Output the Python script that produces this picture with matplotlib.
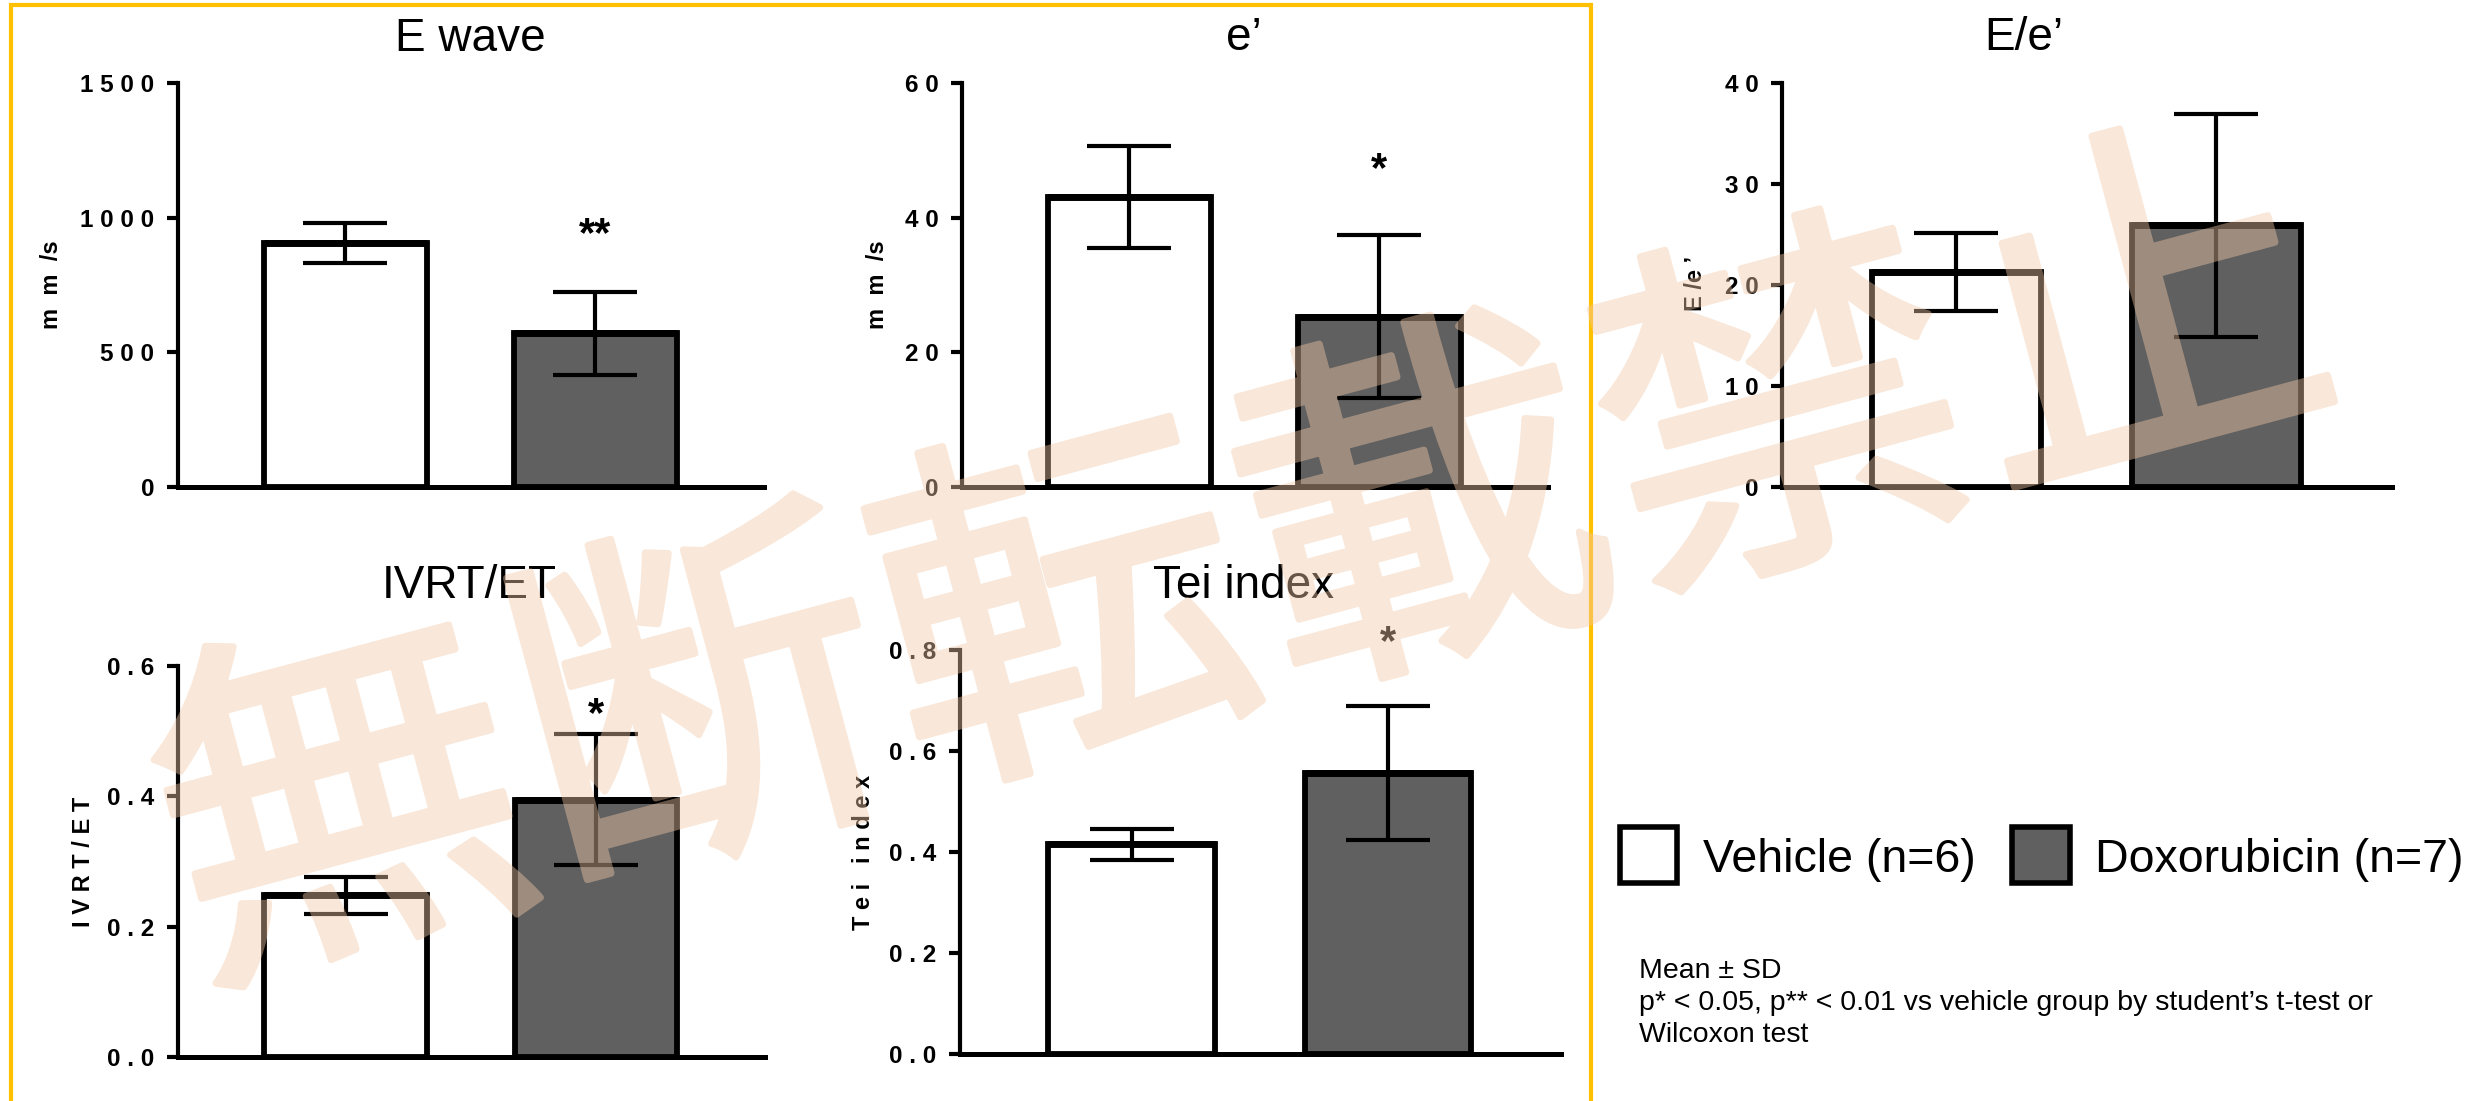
import matplotlib
matplotlib.use("Agg")
import matplotlib.pyplot as plt
import matplotlib.patheffects as pe
from matplotlib.patches import Rectangle
from matplotlib.lines import Line2D

plt.rcParams['font.family'] = ['Liberation Sans', 'DejaVu Sans']

# Groups and per-parameter results (mean, SD)
groups = ["Vehicle (n=6)", "Doxorubicin (n=7)"]
bar_colors = ["white", "#606060"]

e_wave_mean = [905, 570]
e_wave_sd = [75, 153]
e_prime_mean = [43.1, 25.3]
e_prime_sd = [7.6, 12.1]
e_ratio_mean = [21.3, 25.9]
e_ratio_sd = [3.85, 11.0]
ivrt_et_mean = [0.248, 0.395]
ivrt_et_sd = [0.028, 0.10]
tei_mean = [0.415, 0.556]
tei_sd = [0.03, 0.133]

e_wave_ticks = ["0", "500", "1000", "1500"]
e_prime_ticks = ["0", "20", "40", "60"]
e_ratio_ticks = ["0", "10", "20", "30", "40"]
ivrt_et_ticks = ["0.0", "0.2", "0.4", "0.6"]
tei_ticks = ["0.0", "0.2", "0.4", "0.6", "0.8"]

e_wave_sig = ["", "**"]
e_prime_sig = ["", "*"]
e_ratio_sig = ["", ""]
ivrt_et_sig = ["", "*"]
tei_sig = ["", "*"]

notes = [
    "Mean \u00b1 SD",
    "p* < 0.05, p** < 0.01 vs vehicle group by student\u2019s t-test or",
    "Wilcoxon test",
]

watermark = "無断転載禁止"

W, H = 2484, 1101
fig = plt.figure(figsize=(W / 100, H / 100), dpi=100)


def fx(x):
    return x / W


def fy(y):
    return 1 - y / H


def spaced(s):
    return " ".join(s)


def fade(img, dpi):
    # scale the alpha of an opaque rendering so overlapping strokes stay uniform
    img = img.copy()
    img[..., 3] *= 0.43
    return img, 0, 0


# panel layout in pixels: axes box (left, right, top, bottom), title centre/baseline,
# y-label centre, star height
panels = [
    dict(title="E wave", ylabel="m  m  /s", mean=e_wave_mean, sd=e_wave_sd,
         ticks=e_wave_ticks, sig=e_wave_sig, box=(178, 764, 83, 487),
         title_xy=(470, 51), ylab_xy=(52, 285), star_y=[0, 985]),
    dict(title="e\u2019", ylabel="m  m  /s", mean=e_prime_mean, sd=e_prime_sd,
         ticks=e_prime_ticks, sig=e_prime_sig, box=(962, 1548, 83, 487),
         title_xy=(1244, 50), ylab_xy=(878, 285), star_y=[0, 49.0]),
    dict(title="E/e\u2019", ylabel="E /e \u2019", mean=e_ratio_mean, sd=e_ratio_sd,
         ticks=e_ratio_ticks, sig=e_ratio_sig, box=(1782, 2392, 83, 487),
         title_xy=(2024, 50), ylab_xy=(1695, 283), star_y=[0, 0]),
    dict(title="IVRT/ET", ylabel="I V R T / E T", mean=ivrt_et_mean, sd=ivrt_et_sd,
         ticks=ivrt_et_ticks, sig=ivrt_et_sig, box=(178, 765, 666, 1057),
         title_xy=(469, 598), ylab_xy=(84, 862), star_y=[0, 0.545]),
    dict(title="Tei index", ylabel="T e i   i n d e x", mean=tei_mean, sd=tei_sd,
         ticks=tei_ticks, sig=tei_sig, box=(960, 1561, 650, 1054),
         title_xy=(1244, 598), ylab_xy=(863, 852), star_y=[0, 0.84]),
]

xpos = [1, 2]
star_fs = 30

for p in panels:
    x0, x1, yt, yb = p['box']
    ax = fig.add_axes([fx(x0), fy(yb), (x1 - x0) / W, (yb - yt) / H])
    tick_vals = [float(t) for t in p['ticks']]

    ax.bar(xpos, p['mean'], width=0.65, color=bar_colors, edgecolor='black',
           linewidth=4.2, zorder=2)
    # heavier line along the top of each bar
    ax.hlines(p['mean'], [x - 0.325 for x in xpos], [x + 0.325 for x in xpos],
              colors='black', linewidth=5, zorder=2.5)
    ax.errorbar(xpos, p['mean'], yerr=p['sd'], fmt='none', ecolor='black',
                elinewidth=3, capsize=30, capthick=3, zorder=3)

    for xi, s, ys in zip(xpos, p['sig'], p['star_y']):
        if s:
            ax.annotate(s, (xi, ys), xytext=(0, -0.58 * star_fs), textcoords='offset points',
                        ha='center', va='baseline', fontsize=star_fs, fontweight='bold',
                        annotation_clip=False)

    ax.set_xlim(0.33, 2.675)
    ax.set_ylim(tick_vals[0], tick_vals[-1])
    ax.set_yticks(tick_vals)
    ax.set_yticklabels([spaced(t) for t in p['ticks']], fontsize=17.5, fontweight='bold')
    ax.set_xticks([])
    for side in ('top', 'right'):
        ax.spines[side].set_visible(False)
    ax.spines['left'].set_linewidth(3)
    ax.spines['bottom'].set_linewidth(3.6)
    ax.tick_params(axis='y', length=8, width=3, pad=9, direction='out')
    ax.set_facecolor('none')

    tx, ty = p['title_xy']
    fig.text(fx(tx), fy(ty), p['title'], ha='center', va='baseline', fontsize=33)
    lx, ly = p['ylab_xy']
    fig.text(fx(lx), fy(ly), p['ylabel'], ha='center', va='center', rotation=90,
             fontsize=17, fontweight='bold')

# legend
legend_boxes = [(1620, 1677), (2012, 2070)]
legend_text_x = [1703, 2095]
for (bx0, bx1), tx, col, name in zip(legend_boxes, legend_text_x, bar_colors, groups):
    fig.add_artist(Rectangle((fx(bx0), fy(883)), (bx1 - bx0) / W, 56 / H,
                             transform=fig.transFigure, facecolor=col,
                             edgecolor='black', linewidth=4))
    fig.text(fx(tx), fy(872), name, ha='left', va='baseline', fontsize=33.5)

for line, base in zip(notes, [978, 1010, 1042]):
    fig.text(fx(1639), fy(base), line, ha='left', va='baseline', fontsize=20.5)

# yellow frame around the left five panels
fig.add_artist(Line2D([fx(11), fx(11), fx(1591), fx(1591)],
                      [fy(1110), fy(5), fy(5), fy(1110)],
                      transform=fig.transFigure, color='#FFC000', linewidth=3,
                      solid_joinstyle='miter'))

# diagonal watermark, one character at a time along a rising line
wm_color = (242 / 255, 200 / 255, 167 / 255)
wm_start = (345, 821)
wm_step = (360, -97.6)
for i, ch in enumerate(watermark):
    cx = wm_start[0] + i * wm_step[0]
    cy = wm_start[1] + i * wm_step[1]
    t = fig.text(fx(cx), fy(cy), ch, ha='center', va='center', rotation=15,
                 rotation_mode='anchor', fontsize=265, color=wm_color,
                 family=['Noto Sans CJK JP', 'DejaVu Sans'], zorder=20,
                 path_effects=[pe.withStroke(linewidth=5, foreground=wm_color)])
    t.set_agg_filter(fade)

fig.savefig("out.png", dpi=100, facecolor='white')
